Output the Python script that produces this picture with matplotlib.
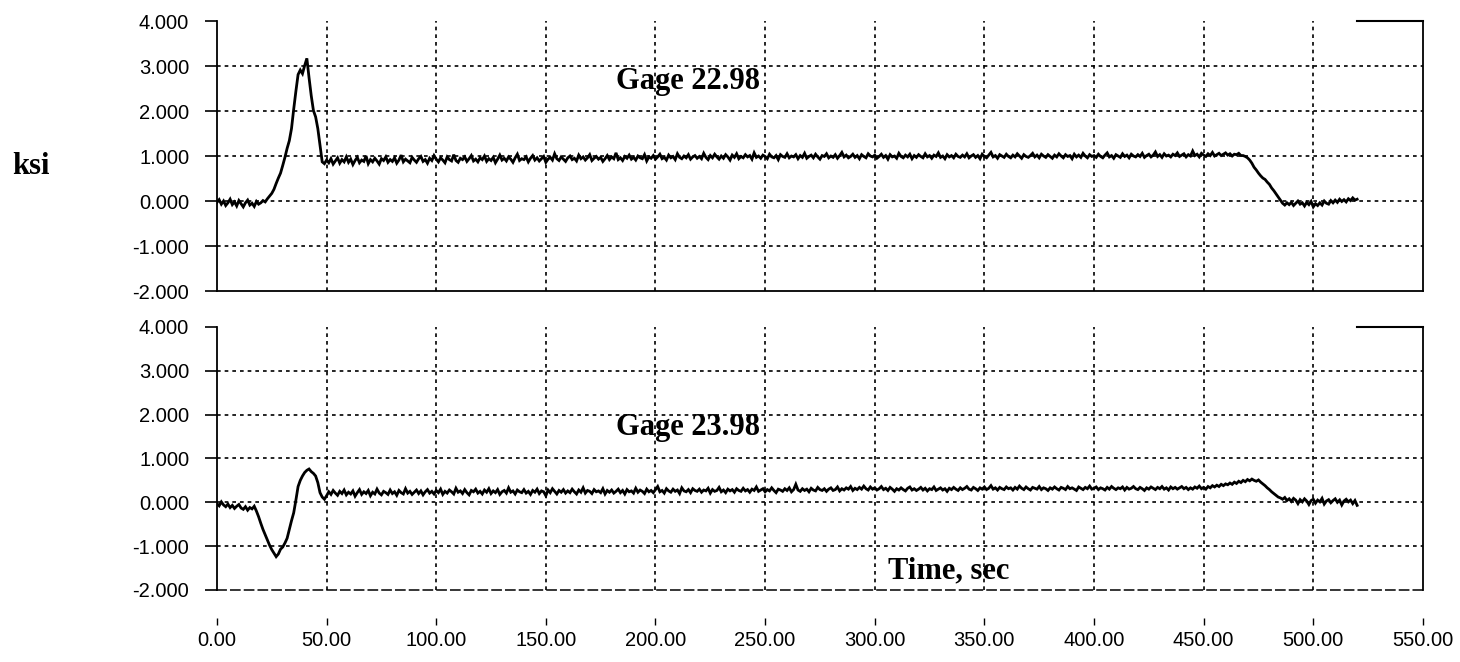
import numpy as np
import matplotlib
matplotlib.use("Agg")
import matplotlib.pyplot as plt
from matplotlib.ticker import FormatStrFormatter

# Strain-gage stress records, one reading per second (ksi)
gage_22_98 = [
    -0.02, 0.04, -0.06, 0.01, -0.09, -0.03, 0.05, -0.07, -0.01, -0.10, 0.02, -0.05, -0.12, -0.03, 0.03, -0.08, -0.04, -0.11, 0.00, -0.06,
    -0.03, 0.02, -0.01, 0.06, 0.12, 0.18, 0.27, 0.40, 0.52, 0.63, 0.80, 0.98, 1.18, 1.35, 1.62, 2.05, 2.45, 2.82, 2.92, 2.84,
    3.02, 3.18, 2.75, 2.35, 2.02, 1.88, 1.62, 1.25, 0.88, 0.84, 0.92, 0.86, 0.95, 0.83, 0.90, 0.97, 0.85, 0.93, 0.88, 0.99,
    0.87, 0.94, 0.82, 0.91, 0.98, 0.86, 0.92, 0.89, 1.01, 0.84, 0.93, 0.88, 0.96, 0.90, 0.83, 0.95, 0.91, 0.99, 0.87, 0.93,
    0.89, 0.97, 0.85, 0.92, 1.03, 0.88, 0.94, 0.90, 0.86, 0.98, 0.92, 0.87, 0.95, 1.00, 0.89, 0.93, 0.85, 0.96, 0.91, 1.02,
    0.94, 0.88, 0.97, 0.92, 0.86, 0.99, 0.93, 0.90, 1.04, 0.91, 0.87, 0.96, 0.93, 0.99, 0.89, 0.95, 1.02, 0.90, 0.94, 0.88,
    0.97, 0.93, 1.01, 0.89, 0.95, 0.91, 0.98, 0.86, 0.94, 1.03, 0.92, 0.96, 0.90, 0.99, 0.94, 0.87, 0.97, 1.05, 0.91, 0.95,
    0.93, 0.99, 0.88, 0.96, 1.02, 0.92, 0.97, 0.90, 0.95, 1.00, 0.87, 0.94, 0.98, 0.92, 1.06, 0.95, 0.91, 0.99, 0.94, 0.89,
    0.97, 1.01, 0.93, 0.96, 0.90, 1.03, 0.95, 0.99, 0.92, 0.97, 1.04, 0.91, 0.96, 1.00, 0.94, 0.98, 0.89, 0.95, 1.02, 0.93,
    0.99, 0.95, 1.08, 0.93, 0.97, 0.91, 1.00, 0.96, 1.03, 0.94, 0.98, 0.92, 1.01, 0.97, 0.95, 1.04, 0.90, 0.99, 0.96, 1.02,
    0.94, 0.99, 1.05, 0.95, 0.98, 0.92, 1.03, 0.97, 1.00, 0.93, 1.06, 0.98, 0.95, 1.01, 0.97, 1.04, 0.94, 0.99, 1.02, 0.96,
    1.00, 0.95, 1.07, 0.98, 0.93, 1.02, 0.97, 1.05, 0.99, 0.94, 1.01, 0.96, 1.04, 0.99, 0.92, 1.03, 0.98, 1.06, 0.95, 1.00,
    0.97, 1.04, 0.99, 1.02, 0.94, 1.08, 0.98, 1.01, 0.96, 1.03, 1.00, 0.95, 1.05, 0.99, 0.97, 1.02, 0.93, 1.04, 1.00, 0.98,
    1.06, 0.97, 1.01, 0.99, 1.04, 0.95, 1.02, 0.98, 1.07, 0.96, 1.00, 1.03, 0.97, 1.05, 0.99, 0.94, 1.02, 1.00, 1.06, 0.97,
    1.01, 0.98, 1.04, 0.96, 1.02, 1.09, 0.99, 1.03, 0.97, 1.00, 1.05, 0.98, 1.02, 0.95, 1.04, 1.00, 0.97, 1.06, 1.01, 0.99,
    1.03, 0.96, 1.00, 1.05, 0.98, 1.02, 0.94, 1.04, 0.99, 1.01, 0.96, 1.07, 1.00, 0.97, 1.03, 0.99, 1.05, 0.95, 1.02, 0.98,
    1.04, 1.00, 0.97, 1.06, 0.99, 1.02, 0.96, 1.03, 1.00, 1.08, 0.98, 1.01, 0.95, 1.04, 0.99, 1.02, 0.97, 1.05, 1.00, 0.98,
    1.03, 0.99, 1.06, 0.97, 1.01, 1.04, 0.98, 1.02, 0.95, 1.05, 1.00, 0.97, 1.03, 1.09, 0.99, 1.02, 0.96, 1.04, 1.01, 0.98,
    1.05, 1.00, 0.97, 1.03, 0.99, 1.06, 1.01, 0.96, 1.04, 1.00, 0.98, 1.02, 1.07, 0.99, 1.03, 0.97, 1.05, 1.01, 0.98, 1.04,
    1.00, 0.96, 1.03, 0.99, 1.06, 1.01, 0.97, 1.04, 1.00, 1.02, 0.95, 1.05, 0.99, 1.03, 0.98, 1.07, 1.01, 0.97, 1.04, 1.00,
    1.02, 0.98, 1.05, 1.00, 0.97, 1.03, 1.08, 0.99, 1.02, 0.96, 1.04, 1.01, 0.98, 1.06, 1.00, 1.03, 0.97, 1.05, 1.01, 0.99,
    1.04, 1.00, 1.07, 0.98, 1.02, 1.05, 0.99, 1.03, 1.10, 1.00, 1.04, 0.98, 1.06, 1.01, 1.03, 0.99, 1.05, 1.02, 1.08, 1.00,
    1.03, 1.06, 0.99, 1.04, 1.01, 1.12, 1.02, 1.05, 0.99, 1.07, 1.03, 1.00, 1.06, 1.02, 1.09, 1.01, 1.04, 1.07, 1.02, 1.05,
    1.08, 1.03, 1.06, 1.01, 1.05, 1.04, 1.07, 1.02, 1.02, 1.00, 0.97, 0.92, 0.85, 0.76, 0.70, 0.63, 0.57, 0.52, 0.49, 0.43,
    0.38, 0.30, 0.24, 0.17, 0.10, 0.03, -0.04, -0.08, -0.03, -0.07,
    -0.02, -0.09, -0.04, 0.01, -0.06, -0.03, -0.10, -0.02, -0.07, 0.00, -0.12, -0.05, -0.09, -0.03, -0.08, 0.01, -0.04, -0.06, 0.02, -0.03,
    0.03, -0.02, 0.05, 0.00, 0.04, -0.01, 0.06, 0.02, 0.08, 0.03, 0.05,
]

gage_23_98 = [
    -0.03, -0.08, 0.01, -0.06, -0.10, -0.04, -0.12, -0.07, -0.14, -0.09, -0.05, -0.13, -0.16, -0.10, -0.18, -0.12, -0.15, -0.09, -0.20, -0.33,
    -0.48, -0.62, -0.74, -0.86, -0.98, -1.08, -1.16, -1.24, -1.18, -1.07, -1.02, -0.93, -0.82, -0.62, -0.42, -0.24, 0.05, 0.36, 0.50, 0.60,
    0.68, 0.73, 0.76, 0.70, 0.66, 0.60, 0.45, 0.22, 0.12, 0.07, 0.15, 0.24, 0.18, 0.27, 0.21, 0.16, 0.25, 0.20, 0.28, 0.17,
    0.23, 0.19, 0.26, 0.14, 0.22, 0.29, 0.18, 0.24, 0.20, 0.27, 0.15, 0.23, 0.19, 0.30, 0.21, 0.17, 0.25, 0.22, 0.18, 0.28,
    0.20, 0.24, 0.16, 0.27, 0.22, 0.19, 0.31, 0.21, 0.25, 0.18, 0.23, 0.28, 0.20, 0.26, 0.17, 0.24, 0.29, 0.21, 0.25, 0.19,
    0.27, 0.22, 0.30, 0.18, 0.25, 0.21, 0.28, 0.24, 0.19, 0.32, 0.23, 0.26, 0.20, 0.29, 0.22, 0.17, 0.27, 0.24, 0.30, 0.21,
    0.25, 0.19, 0.28, 0.23, 0.31, 0.20, 0.26, 0.22, 0.29, 0.18, 0.24, 0.27, 0.21, 0.33, 0.23, 0.26, 0.19, 0.28, 0.24, 0.22,
    0.29, 0.21, 0.25, 0.18, 0.27, 0.23, 0.30, 0.20, 0.26, 0.24, 0.15, 0.28, 0.22, 0.31, 0.25, 0.19, 0.27, 0.23, 0.29, 0.21,
    0.26, 0.22, 0.30, 0.24, 0.19, 0.28, 0.23, 0.33, 0.21, 0.27, 0.25, 0.20, 0.29, 0.24, 0.26, 0.22, 0.31, 0.19, 0.27, 0.23,
    0.28, 0.21, 0.25, 0.30, 0.22, 0.27, 0.19, 0.29, 0.24, 0.26, 0.21, 0.32, 0.23, 0.28, 0.25, 0.20, 0.30, 0.24, 0.27, 0.22,
    0.29, 0.36, 0.24, 0.27, 0.21, 0.31, 0.26, 0.23, 0.30, 0.25, 0.28, 0.20, 0.33, 0.26, 0.24, 0.29, 0.22, 0.31, 0.27, 0.25,
    0.30, 0.23, 0.28, 0.26, 0.32, 0.21, 0.29, 0.25, 0.27, 0.34, 0.24, 0.28, 0.22, 0.30, 0.26, 0.29, 0.23, 0.31, 0.27, 0.25,
    0.32, 0.26, 0.29, 0.23, 0.30, 0.27, 0.35, 0.25, 0.28, 0.31, 0.24, 0.29, 0.26, 0.33, 0.27, 0.22, 0.30, 0.28, 0.25, 0.31,
    0.27, 0.33, 0.24, 0.29, 0.41, 0.28, 0.25, 0.31, 0.27, 0.30, 0.24, 0.32, 0.28, 0.26, 0.34, 0.29, 0.27, 0.31, 0.25, 0.30,
    0.33, 0.27, 0.29, 0.35, 0.26, 0.31, 0.28, 0.33, 0.30, 0.36, 0.27, 0.32, 0.29, 0.34, 0.30, 0.37, 0.31, 0.28, 0.35, 0.30,
    0.33, 0.28, 0.31, 0.36, 0.29, 0.32, 0.27, 0.34, 0.30, 0.25, 0.31, 0.28, 0.33, 0.29, 0.26, 0.32, 0.35, 0.28, 0.31, 0.27,
    0.30, 0.34, 0.28, 0.32, 0.26, 0.31, 0.29, 0.35, 0.27, 0.30, 0.33, 0.28, 0.31, 0.25, 0.32, 0.29, 0.34, 0.30, 0.27, 0.33,
    0.29, 0.32, 0.36, 0.30, 0.28, 0.34, 0.31, 0.27, 0.33, 0.30, 0.35, 0.29, 0.32, 0.38, 0.30, 0.33, 0.28, 0.34, 0.31, 0.29,
    0.35, 0.31, 0.33, 0.28, 0.34, 0.30, 0.37, 0.32, 0.29, 0.35, 0.31, 0.28, 0.34, 0.32, 0.30, 0.36, 0.29, 0.33, 0.31, 0.27,
    0.33, 0.30, 0.35, 0.31, 0.28, 0.34, 0.32, 0.29, 0.36, 0.31, 0.33, 0.30, 0.27, 0.35, 0.32, 0.29, 0.34, 0.31, 0.37, 0.30,
    0.32, 0.35, 0.29, 0.33, 0.31, 0.28, 0.34, 0.30, 0.36, 0.32, 0.29, 0.33, 0.31, 0.35, 0.28, 0.34, 0.30, 0.32, 0.36, 0.31,
    0.29, 0.34, 0.31, 0.27, 0.33, 0.30, 0.35, 0.32, 0.29, 0.34, 0.31, 0.36, 0.30, 0.33, 0.28, 0.35, 0.31, 0.34, 0.30, 0.33,
    0.36, 0.31, 0.34, 0.29, 0.33, 0.30, 0.35, 0.32, 0.37, 0.31, 0.34, 0.30, 0.36, 0.33, 0.38, 0.35, 0.39, 0.36, 0.41, 0.38,
    0.42, 0.40, 0.44, 0.41, 0.46, 0.43, 0.48, 0.45, 0.50, 0.47, 0.52, 0.49, 0.53, 0.50, 0.48, 0.51, 0.46, 0.42, 0.38, 0.33,
    0.29, 0.24, 0.20, 0.16, 0.12, 0.10, 0.07, 0.11, 0.04, 0.08, 0.02, 0.09, 0.05, -0.03, 0.06, 0.01, 0.08, 0.03, -0.05, 0.04,
    0.07, -0.02, 0.05, 0.01, 0.09, -0.04, 0.03, 0.06, -0.01, 0.04, 0.08, 0.00, 0.05, -0.06, 0.03, 0.07, 0.01, 0.05, -0.03, 0.04,
    -0.07,
]

time_ticks = [0, 50, 100, 150, 200, 250, 300, 350, 400, 450, 500, 550]
ksi_ticks = [-2, -1, 0, 1, 2, 3, 4]
panels = [("Gage 22.98", gage_22_98, 2.49), ("Gage 23.98", gage_23_98, 1.53)]

tick_font = "Liberation Sans"
label_font = "Liberation Serif"

fig = plt.figure(figsize=(14.6, 6.62), dpi=100)
fig.patch.set_facecolor("white")

axes_boxes = [
    [0.1486, 0.5597, 0.8260, 0.4079],
    [0.1486, 0.1088, 0.8260, 0.3973],
]

grid_style = dict(color="black", linewidth=1.2, linestyle=(0, (2.2, 2.4)))

axes = []
for box, (name, values, name_y) in zip(axes_boxes, panels):
    ax = fig.add_axes(box)
    t = np.arange(len(values), dtype=float)
    ax.plot(t, values, color="black", linewidth=2.0, solid_joinstyle="miter")

    ax.set_xlim(0, 550)
    ax.set_ylim(-2, 4)
    ax.set_xticks(time_ticks)
    ax.set_yticks(ksi_ticks)
    ax.yaxis.set_major_formatter(FormatStrFormatter("%.3f"))

    for xv in time_ticks[1:-1]:
        ax.axvline(xv, **grid_style, zorder=1)
    for yv in ksi_ticks[1:-1]:
        ax.axhline(yv, **grid_style, zorder=1)

    ax.tick_params(axis="y", direction="out", length=9, width=1.2, pad=11,
                   labelsize=14.5, colors="black")
    ax.tick_params(axis="x", length=0, labelbottom=False)
    for lab in ax.get_yticklabels():
        lab.set_fontfamily(tick_font)

    for side in ("left", "right", "bottom"):
        ax.spines[side].set_linewidth(1.3)
        ax.spines[side].set_color("black")
    ax.spines["top"].set_bounds(520, 550)
    ax.spines["top"].set_linewidth(1.5)

    ax.text(214.8, name_y, name, ha="center", va="baseline",
            fontsize=22, fontweight="bold", fontfamily=label_font)
    axes.append(ax)

ax_top, ax_bot = axes
ax_bot.spines["bottom"].set_linestyle((0, (6, 3)))
ax_bot.spines["bottom"].set_linewidth(1.1)

# Time axis drawn a little below the lower panel
sec = ax_bot.secondary_xaxis(-0.135)
sec.set_xticks(time_ticks)
sec.xaxis.set_major_formatter(FormatStrFormatter("%.2f"))
sec.spines["bottom"].set_visible(False)
sec.tick_params(axis="x", direction="in", length=5, width=1.0, pad=4,
                labelsize=14.5, colors="black")
for lab in sec.get_xticklabels():
    lab.set_fontfamily(tick_font)

ax_bot.text(306, -1.74, "Time, sec", ha="left", va="baseline",
            fontsize=22, fontweight="bold", fontfamily=label_font)

fig.text(0.0212, 0.748, "ksi", ha="center", va="center",
         fontsize=22, fontweight="bold", fontfamily=label_font)

fig.savefig("out.png", dpi=100, facecolor="white")
